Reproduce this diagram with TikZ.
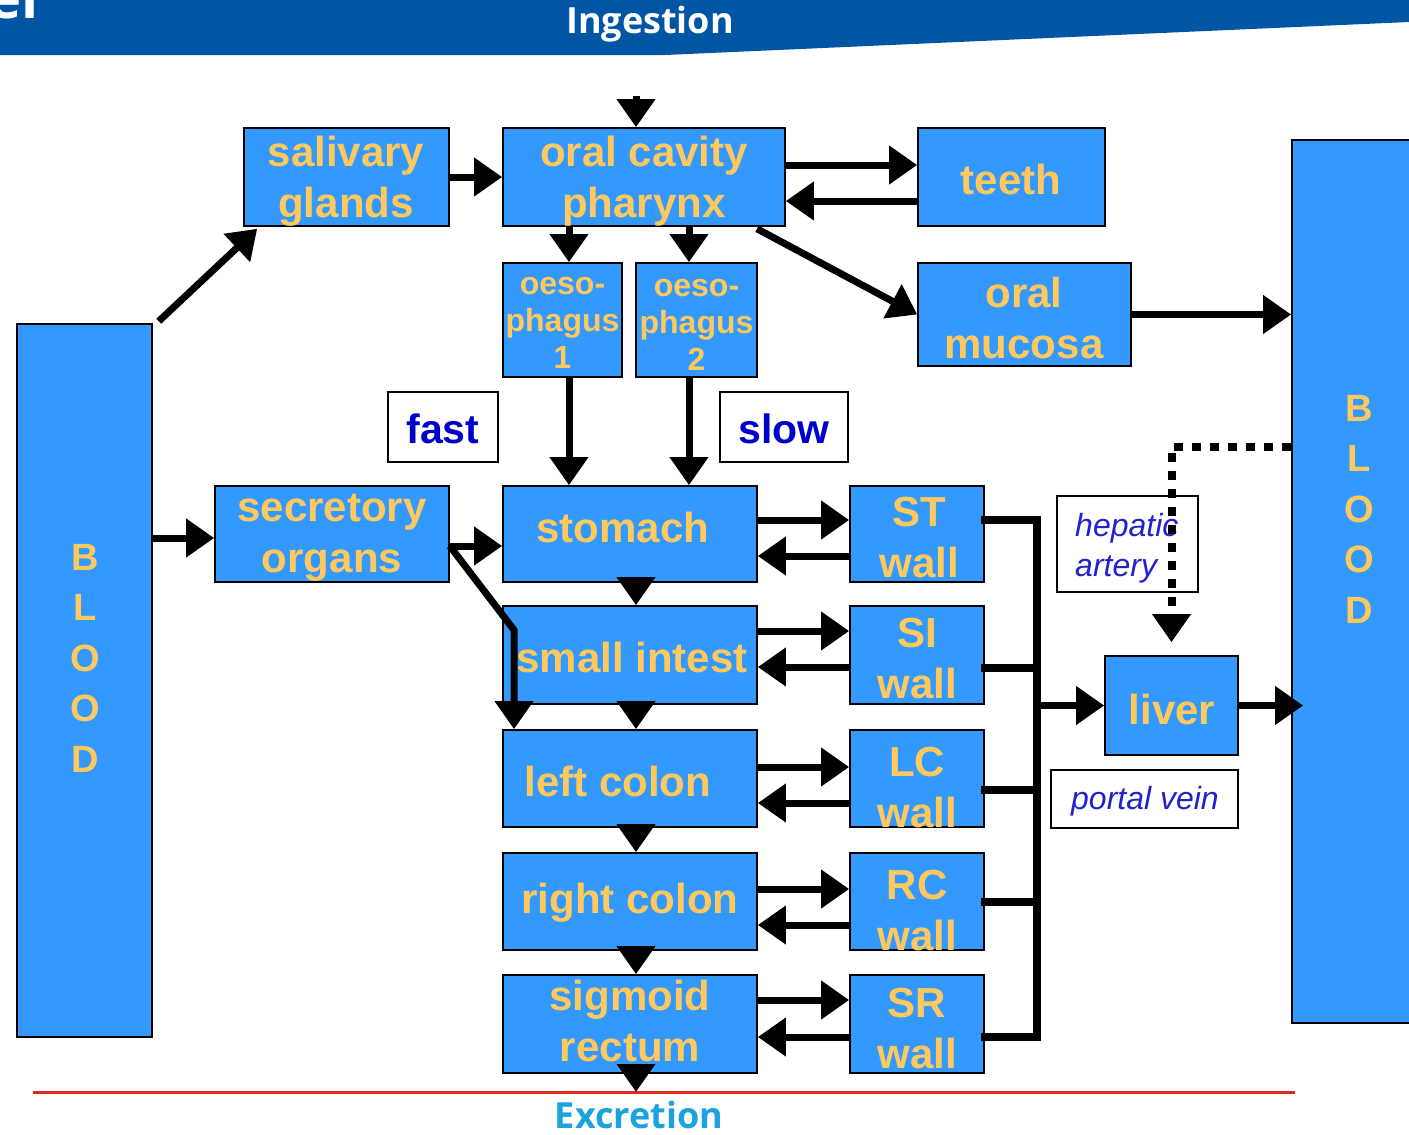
\documentclass[tikz,border=0pt]{standalone}
\usepackage{fontspec}
\setmainfont{Liberation Sans}
\newfontfamily\bannerfont{Open Sans}
\usetikzlibrary{arrows.meta,calc}
\definecolor{boxblue}{HTML}{3399FF}
\definecolor{boxtext}{HTML}{FFC95E}
\definecolor{bannerblue}{HTML}{0055A5}
\definecolor{labblue}{HTML}{0000CC}
\definecolor{itblue}{HTML}{2222CC}
\definecolor{excr}{HTML}{1AA3DC}
\definecolor{redline}{HTML}{E02A1E}
\tikzset{
  organ/.style={draw=black, line width=1.6pt, fill=boxblue, inner sep=0pt},
  otext/.style={text=boxtext, font=\fontsize{42}{51}\selectfont\bfseries, align=center, inner sep=0pt},
  stext/.style={text=boxtext, font=\fontsize{32}{37}\selectfont\bfseries, align=center, inner sep=0pt},
  btext/.style={text=boxtext, font=\fontsize{38}{50.5}\selectfont\bfseries, align=center, inner sep=0pt},
  labbox/.style={draw=black, line width=1.6pt, fill=white, inner sep=0pt},
  labtext/.style={text=labblue, font=\fontsize{41}{48}\selectfont\bfseries, inner sep=0pt},
  ittext/.style={text=itblue, font=\fontsize{32}{40}\selectfont\itshape, align=left, inner sep=0pt},
  arr/.style={line width=7pt, -{Triangle[length=28pt,width=37pt]}},
  bus/.style={line width=8pt, line join=miter, line cap=rect},
  dotline/.style={line width=8pt, dash pattern=on 9pt off 9pt, -{Triangle[length=28pt,width=37pt]}},
}
\begin{document}
\begin{tikzpicture}[x=1pt,y=-1pt]
\useasboundingbox (0,0) rectangle (1409,1135);
\fill[white] (0,0) rectangle (1409,1135);
% banner
\fill[bannerblue] (0,0) -- (1409,0) -- (1409,22) -- (665,55) -- (0,55) -- cycle;
\node[text=white, font=\bannerfont\fontsize{56}{60}\selectfont\bfseries, anchor=base west, inner sep=0pt] (title) at (-12,19) {el};
\node[text=white, font=\bannerfont\fontsize{36}{40}\selectfont\bfseries, inner sep=0pt] (ingest) at (650,24) {Ingestion};

% boxes
\node[organ, minimum width=205pt, minimum height=98pt] (sal) at (346.5,177) {};
\node[organ, minimum width=282pt, minimum height=98pt] (oral) at (644,177) {};
\node[organ, minimum width=187pt, minimum height=98pt] (teeth) at (1011.5,177) {};
\node[organ, minimum width=119pt, minimum height=114pt] (oes1) at (562.5,320) {};
\node[organ, minimum width=121pt, minimum height=114pt] (oes2) at (696.5,320) {};
\node[organ, minimum width=213pt, minimum height=103pt] (muc) at (1024.5,314.5) {};
\node[organ, minimum width=135pt, minimum height=713pt] (bloodL) at (84.5,680.5) {};
\node[organ, minimum width=140pt, minimum height=883pt] (bloodR) at (1362,581.5) {};
\node[organ, minimum width=234pt, minimum height=96pt] (secr) at (332,534) {};
\node[organ, minimum width=254pt, minimum height=96pt] (stom) at (630,534) {};
\node[organ, minimum width=134pt, minimum height=96pt] (stw) at (917,534) {};
\node[organ, minimum width=254pt, minimum height=98pt] (si) at (630,655) {};
\node[organ, minimum width=134pt, minimum height=98pt] (siw) at (917,655) {};
\node[organ, minimum width=254pt, minimum height=97pt] (lc) at (630,778.5) {};
\node[organ, minimum width=134pt, minimum height=97pt] (lcw) at (917,778.5) {};
\node[organ, minimum width=254pt, minimum height=97pt] (rc) at (630,901.5) {};
\node[organ, minimum width=134pt, minimum height=97pt] (rcw) at (917,901.5) {};
\node[organ, minimum width=254pt, minimum height=98pt] (sig) at (630,1024) {};
\node[organ, minimum width=134pt, minimum height=98pt] (srw) at (917,1024) {};
\node[organ, minimum width=133pt, minimum height=99pt] (liver) at (1171.5,705.5) {};
\node[labbox, minimum width=110pt, minimum height=70pt] (fast) at (443,427) {};
\node[labbox, minimum width=128pt, minimum height=70pt] (slow) at (784,427) {};
\node[labbox, minimum width=141pt, minimum height=96pt] (hep) at (1127.5,544) {};
\node[labbox, minimum width=187pt, minimum height=58pt] (portal) at (1144.5,799) {};

% texts
\node[otext] (salT) at (346,181) {salivary\\glands};
\node[otext] (oralT) at (644,181) {oral cavity\\pharynx};
\node[otext] (teethT) at (1011,179) {teeth};
\node[stext] (oes1T) at (562.5,323) {oeso-\\phagus\\1};
\node[stext] (oes2T) at (696.5,325) {oeso-\\phagus\\2};
\node[otext] (mucT) at (1024,318) {oral\\mucosa};
\node[btext] (bloodLT) at (85,658) {B\\L\\O\\O\\D};
\node[btext] (bloodRT) at (1359,509) {B\\L\\O\\O\\D};
\node[otext] (secrT) at (332,538) {secretory\\organs};
\node[otext] (stomT) at (623,527) {stomach};
\node[otext] (stwT) at (919,538) {ST\\wall};
\node[otext] (siT) at (632,657) {small intest};
\node[otext] (siwT) at (917,659) {SI\\wall};
\node[otext] (lcT) at (618,781) {left colon};
\node[otext] (lcwT) at (917,788) {LC\\wall};
\node[otext] (rcT) at (630,903) {right colon};
\node[otext] (rcwT) at (917,911) {RC\\wall};
\node[otext] (sigT) at (630,1021) {sigmoid\\rectum};
\node[otext] (srwT) at (917,1029) {SR\\wall};
\node[otext] (liverT) at (1172,709) {liver};
\node[labtext] (fastT) at (443,429) {fast};
\node[labtext] (slowT) at (784,429) {slow};
\node[ittext, anchor=west] (hepT) at (1075,548) {hepatic\\artery};
\node[ittext] (portalT) at (1145,801) {portal vein};

% helper coordinates
\coordinate (cx) at (636,0);
\coordinate (ingTop) at (636,96);
\coordinate (x569) at (569,0);
\coordinate (x689) at (689,0);
\coordinate (x757) at (757,0);
\coordinate (bend) at (514,630);
\coordinate (busTop) at (1037,520);
\coordinate (busBot) at (1037,1037);
\coordinate (exc) at (636,1092);

% red line and excretion
\draw[redline, line width=3pt] (33,1092) -- (1295,1092);
\node[text=excr, font=\bannerfont\fontsize{36}{40}\selectfont\bfseries, inner sep=0pt] (excT) at (639,1115) {Excretion};

% arrows
\draw[arr] (ingTop) -- (oral.north -| cx);
\draw[arr] (sal.east) -- (oral.west);
\draw[arr] ([yshift=12pt]oral.east) -- ([yshift=12pt]teeth.west);
\draw[arr] ([yshift=-24pt]teeth.west) -- ([yshift=-24pt]oral.east);
\draw[arr] (oral.south -| x569) -- (oes1.north -| x569);
\draw[arr] (oral.south -| x689) -- (oes2.north -| x689);
\draw[arr] ([yshift=-2pt]oral.south -| x757) -- (muc.west);
\draw[arr] (muc.east) -- (muc.east -| bloodR.west);
\draw[arr] ($(bloodL.north east)+(6,-2)$) -- ($(sal.south west)+(14,2)$);
\draw[arr] (oes1.south -| x569) -- (stom.north -| x569);
\draw[arr] (oes2.south -| x689) -- (stom.north -| x689);
\draw[arr] ([yshift=-4pt]secr.west -| bloodL.east) -- ([yshift=-4pt]secr.west);
\draw[arr] ([yshift=-12pt]secr.east) -- ([yshift=-12pt]stom.west);
\draw[arr, line join=miter] ([yshift=-12pt]secr.east) -- (bend) -- (bend |- lc.north);
% downward chain
\draw[arr] (stom.south -| cx) -- (si.north -| cx);
\draw[arr] (si.south -| cx) -- (lc.north -| cx);
\draw[arr] (lc.south -| cx) -- (rc.north -| cx);
\draw[arr] (rc.south -| cx) -- (sig.north -| cx);
\draw[arr] (sig.south -| cx) -- (exc);
% lumen <-> wall
\draw[arr] ([yshift=14pt]stom.east) -- ([yshift=14pt]stw.west);
\draw[arr] ([yshift=-22pt]stw.west) -- ([yshift=-22pt]stom.east);
\draw[arr] ([yshift=24pt]si.east) -- ([yshift=24pt]siw.west);
\draw[arr] ([yshift=-12pt]siw.west) -- ([yshift=-12pt]si.east);
\draw[arr] ([yshift=11.5pt]lc.east) -- ([yshift=11.5pt]lcw.west);
\draw[arr] ([yshift=-24.5pt]lcw.west) -- ([yshift=-24.5pt]lc.east);
\draw[arr] ([yshift=12.5pt]rc.east) -- ([yshift=12.5pt]rcw.west);
\draw[arr] ([yshift=-23.5pt]rcw.west) -- ([yshift=-23.5pt]rc.east);
\draw[arr] ([yshift=24pt]sig.east) -- ([yshift=24pt]srw.west);
\draw[arr] ([yshift=-13pt]srw.west) -- ([yshift=-13pt]sig.east);
% portal bus
\draw[bus] ([yshift=14pt]stw.east) -- (busTop) -- (busBot) -- ([yshift=-13pt]srw.east);
\draw[bus] ([yshift=-13pt]siw.east) -- ([yshift=-13pt]siw.east -| busTop);
\draw[bus] ([yshift=-11.5pt]lcw.east) -- ([yshift=-11.5pt]lcw.east -| busTop);
\draw[bus] ([yshift=-0.5pt]rcw.east) -- ([yshift=-0.5pt]rcw.east -| busTop);
\draw[arr] (busTop |- liver.west) -- (liver.west);
\draw[arr] (liver.east) -- ([xshift=12pt]liver.east -| bloodR.west);
% hepatic artery
\draw[dotline] ([yshift=134.5pt]bloodR.west) -| ([yshift=13pt]liver.north);
\end{tikzpicture}
\end{document}
